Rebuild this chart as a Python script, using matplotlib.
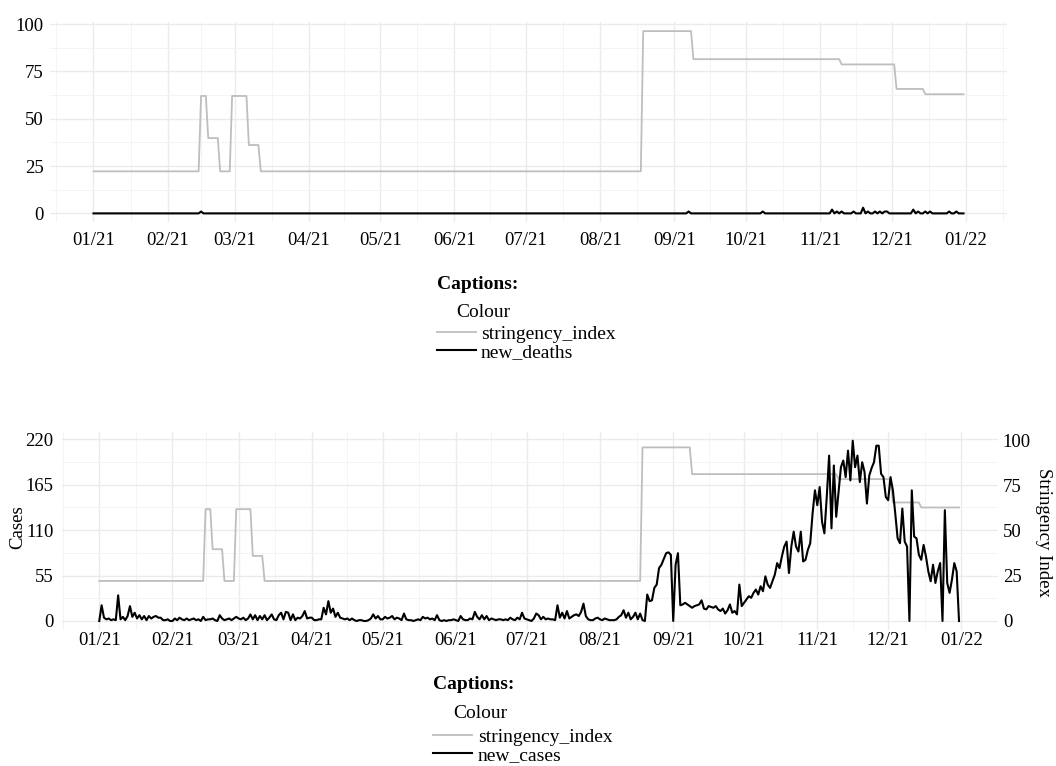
import numpy as np
import pandas as pd
import matplotlib
matplotlib.use('Agg')
import matplotlib.pyplot as plt
import matplotlib.dates as mdates

plt.rcParams['font.family'] = ['Liberation Serif', 'DejaVu Serif']

# ==================== data (one value per day, 2021) ====================
dates = pd.date_range('2021-01-01', '2021-12-31', freq='D')

stringency_index = [
    # jan
    22.22, 22.22, 22.22, 22.22, 22.22, 22.22, 22.22, 22.22, 22.22, 22.22, 22.22,
    22.22, 22.22, 22.22, 22.22, 22.22, 22.22, 22.22, 22.22, 22.22, 22.22, 22.22,
    22.22, 22.22, 22.22, 22.22, 22.22, 22.22, 22.22, 22.22, 22.22,
    # feb
    22.22, 22.22, 22.22, 22.22, 22.22, 22.22, 22.22, 22.22, 22.22, 22.22, 22.22,
    22.22, 22.22, 22.22, 62.04, 62.04, 62.04, 39.81, 39.81, 39.81, 39.81, 39.81,
    22.22, 22.22, 22.22, 22.22, 22.22, 62.04,
    # mar
    62.04, 62.04, 62.04, 62.04, 62.04, 62.04, 36.11, 36.11, 36.11, 36.11, 36.11,
    22.22, 22.22, 22.22, 22.22, 22.22, 22.22, 22.22, 22.22, 22.22, 22.22, 22.22,
    22.22, 22.22, 22.22, 22.22, 22.22, 22.22, 22.22, 22.22, 22.22,
    # apr
    22.22, 22.22, 22.22, 22.22, 22.22, 22.22, 22.22, 22.22, 22.22, 22.22, 22.22,
    22.22, 22.22, 22.22, 22.22, 22.22, 22.22, 22.22, 22.22, 22.22, 22.22, 22.22,
    22.22, 22.22, 22.22, 22.22, 22.22, 22.22, 22.22, 22.22,
    # may
    22.22, 22.22, 22.22, 22.22, 22.22, 22.22, 22.22, 22.22, 22.22, 22.22, 22.22,
    22.22, 22.22, 22.22, 22.22, 22.22, 22.22, 22.22, 22.22, 22.22, 22.22, 22.22,
    22.22, 22.22, 22.22, 22.22, 22.22, 22.22, 22.22, 22.22, 22.22,
    # jun
    22.22, 22.22, 22.22, 22.22, 22.22, 22.22, 22.22, 22.22, 22.22, 22.22, 22.22,
    22.22, 22.22, 22.22, 22.22, 22.22, 22.22, 22.22, 22.22, 22.22, 22.22, 22.22,
    22.22, 22.22, 22.22, 22.22, 22.22, 22.22, 22.22, 22.22,
    # jul
    22.22, 22.22, 22.22, 22.22, 22.22, 22.22, 22.22, 22.22, 22.22, 22.22, 22.22,
    22.22, 22.22, 22.22, 22.22, 22.22, 22.22, 22.22, 22.22, 22.22, 22.22, 22.22,
    22.22, 22.22, 22.22, 22.22, 22.22, 22.22, 22.22, 22.22, 22.22,
    # aug
    22.22, 22.22, 22.22, 22.22, 22.22, 22.22, 22.22, 22.22, 22.22, 22.22, 22.22,
    22.22, 22.22, 22.22, 22.22, 22.22, 22.22, 22.22, 96.3, 96.3, 96.3, 96.3,
    96.3, 96.3, 96.3, 96.3, 96.3, 96.3, 96.3, 96.3, 96.3,
    # sep
    96.3, 96.3, 96.3, 96.3, 96.3, 96.3, 96.3, 96.3, 81.48, 81.48, 81.48,
    81.48, 81.48, 81.48, 81.48, 81.48, 81.48, 81.48, 81.48, 81.48, 81.48, 81.48,
    81.48, 81.48, 81.48, 81.48, 81.48, 81.48, 81.48, 81.48,
    # oct
    81.48, 81.48, 81.48, 81.48, 81.48, 81.48, 81.48, 81.48, 81.48, 81.48, 81.48,
    81.48, 81.48, 81.48, 81.48, 81.48, 81.48, 81.48, 81.48, 81.48, 81.48, 81.48,
    81.48, 81.48, 81.48, 81.48, 81.48, 81.48, 81.48, 81.48, 81.48,
    # nov
    81.48, 81.48, 81.48, 81.48, 81.48, 81.48, 81.48, 81.48, 81.48, 78.7, 78.7,
    78.7, 78.7, 78.7, 78.7, 78.7, 78.7, 78.7, 78.7, 78.7, 78.7, 78.7,
    78.7, 78.7, 78.7, 78.7, 78.7, 78.7, 78.7, 78.7,
    # dec
    78.7, 78.7, 65.74, 65.74, 65.74, 65.74, 65.74, 65.74, 65.74, 65.74, 65.74,
    65.74, 65.74, 65.74, 62.96, 62.96, 62.96, 62.96, 62.96, 62.96, 62.96, 62.96,
    62.96, 62.96, 62.96, 62.96, 62.96, 62.96, 62.96, 62.96, 62.96,
]

new_deaths = [
    # jan
    0, 0, 0, 0, 0, 0, 0, 0, 0, 0, 0, 0, 0, 0, 0, 0, 0, 0, 0, 0, 0, 0, 0, 0, 0, 0, 0, 0, 0, 0, 0,
    # feb
    0, 0, 0, 0, 0, 0, 0, 0, 0, 0, 0, 0, 0, 0, 1, 0, 0, 0, 0, 0, 0, 0, 0, 0, 0, 0, 0, 0,
    # mar
    0, 0, 0, 0, 0, 0, 0, 0, 0, 0, 0, 0, 0, 0, 0, 0, 0, 0, 0, 0, 0, 0, 0, 0, 0, 0, 0, 0, 0, 0, 0,
    # apr
    0, 0, 0, 0, 0, 0, 0, 0, 0, 0, 0, 0, 0, 0, 0, 0, 0, 0, 0, 0, 0, 0, 0, 0, 0, 0, 0, 0, 0, 0,
    # may
    0, 0, 0, 0, 0, 0, 0, 0, 0, 0, 0, 0, 0, 0, 0, 0, 0, 0, 0, 0, 0, 0, 0, 0, 0, 0, 0, 0, 0, 0, 0,
    # jun
    0, 0, 0, 0, 0, 0, 0, 0, 0, 0, 0, 0, 0, 0, 0, 0, 0, 0, 0, 0, 0, 0, 0, 0, 0, 0, 0, 0, 0, 0,
    # jul
    0, 0, 0, 0, 0, 0, 0, 0, 0, 0, 0, 0, 0, 0, 0, 0, 0, 0, 0, 0, 0, 0, 0, 0, 0, 0, 0, 0, 0, 0, 0,
    # aug
    0, 0, 0, 0, 0, 0, 0, 0, 0, 0, 0, 0, 0, 0, 0, 0, 0, 0, 0, 0, 0, 0, 0, 0, 0, 0, 0, 0, 0, 0, 0,
    # sep
    0, 0, 0, 0, 0, 0, 1, 0, 0, 0, 0, 0, 0, 0, 0, 0, 0, 0, 0, 0, 0, 0, 0, 0, 0, 0, 0, 0, 0, 0,
    # oct
    0, 0, 0, 0, 0, 0, 0, 1, 0, 0, 0, 0, 0, 0, 0, 0, 0, 0, 0, 0, 0, 0, 0, 0, 0, 0, 0, 0, 0, 0, 0,
    # nov
    0, 0, 0, 0, 0, 2, 0, 1, 0, 1, 0, 0, 0, 0, 1, 0, 0, 0, 3, 0, 1, 0, 0, 1, 0, 1, 0, 1, 1, 0,
    # dec
    0, 0, 0, 0, 0, 0, 0, 0, 0, 2, 0, 1, 0, 0, 1, 0, 1, 0, 0, 0, 0, 0, 0, 0, 1, 0, 0, 1, 0, 0, 0,
]

new_cases = [
    # jan
    0, 19, 4, 2, 3, 1, 2, 1, 31, 2, 5, 1, 6, 18, 5, 10, 3, 7, 2, 6,
    1, 6, 3, 5, 6, 4, 4, 1, 1, 2, 0,
    # feb
    0, 3, 1, 4, 2, 1, 3, 1, 2, 3, 1, 2, 0, 5, 1, 2, 2, 3, 1, 0,
    7, 3, 1, 2, 3, 1, 3, 5,
    # mar
    3, 2, 4, 1, 3, 8, 2, 7, 1, 6, 2, 7, 1, 4, 8, 2, 1, 7, 10, 2,
    11, 10, 1, 8, 1, 4, 3, 6, 12, 3, 4,
    # apr
    4, 1, 1, 2, 2, 16, 8, 24, 10, 15, 5, 10, 4, 3, 2, 3, 1, 3, 1, 0,
    1, 1, 0, 0, 1, 3, 8, 3, 6, 2,
    # may
    2, 5, 3, 4, 6, 2, 4, 3, 1, 9, 2, 1, 1, 0, 1, 2, 1, 5, 3, 4,
    2, 3, 1, 7, 1, 0, 1, 0, 1, 1, 2,
    # jun
    1, 0, 6, 2, 1, 1, 3, 2, 11, 5, 2, 7, 2, 6, 1, 3, 2, 1, 2, 2,
    1, 2, 1, 4, 2, 1, 4, 2, 10, 3,
    # jul
    2, 1, 0, 3, 9, 7, 2, 5, 2, 3, 2, 2, 1, 19, 4, 10, 3, 12, 3, 5,
    7, 8, 6, 11, 21, 6, 2, 1, 1, 3, 4,
    # aug
    2, 1, 3, 2, 1, 1, 1, 2, 5, 7, 13, 4, 10, 2, 5, 10, 2, 9, 1, 0,
    32, 24, 25, 40, 44, 64, 68, 75, 82, 83, 80,
    # sep
    0, 68, 82, 19, 20, 22, 20, 18, 16, 18, 19, 20, 25, 15, 14, 18, 17, 16, 18, 14,
    12, 15, 9, 13, 20, 10, 12, 8, 44, 18,
    # oct
    22, 26, 30, 28, 34, 38, 32, 42, 36, 54, 44, 40, 48, 56, 70, 64, 78, 90, 96, 58,
    90, 108, 90, 84, 108, 72, 74, 86, 94, 130, 158,
    # nov
    140, 162, 120, 106, 150, 200, 112, 188, 126, 156, 186, 194, 174, 206, 170, 218, 186, 200, 168, 192,
    180, 142, 176, 185, 192, 212, 212, 178, 174, 150,
    # dec
    146, 174, 158, 130, 100, 94, 136, 96, 90, 0, 158, 102, 100, 80, 74, 92, 78, 60, 48, 68,
    46, 60, 70, 0, 134, 46, 34, 50, 70, 60, 0,
]

# ==================== style ====================
W, H = 1056, 766
GRAY = '#BEBEBE'
MAJOR = '#EBEBEB'
MINOR = '#F4F4F4'
FS = 13.5

month_starts = pd.date_range('2020-12-01', '2022-02-01', freq='MS')
major_x = month_starts[1:-1]
minor_x = month_starts[:-1] + (month_starts[1:] - month_starts[:-1]) / 2


def px_axes(left, top, right, bottom):
    return [left / W, 1 - bottom / H, (right - left) / W, (bottom - top) / H]


def style(ax, yticks, yminor, xpad):
    for s in ax.spines.values():
        s.set_visible(False)
    ax.set_xticks(major_x)
    ax.set_xticks(minor_x, minor=True)
    ax.xaxis.set_major_formatter(mdates.DateFormatter('%m/%y'))
    ax.set_yticks(yticks)
    ax.set_yticks(yminor, minor=True)
    ax.grid(which='major', color=MAJOR, lw=1.0)
    ax.grid(which='minor', color=MINOR, lw=0.7)
    ax.set_axisbelow(True)
    ax.tick_params(which='both', length=0, labelsize=FS)
    ax.tick_params(axis='x', pad=xpad)


def captions(ax, handles, labels, x, y_title, y_sub, y_rows):
    fig.text(x / W, 1 - y_title / H, 'Captions:', fontsize=14, fontweight='bold', va='center')
    fig.text((x + 19.7) / W, 1 - y_sub / H, 'Colour', fontsize=14, va='center')
    ax.legend(handles, labels, loc='upper left',
              bbox_to_anchor=(x / W, 1 - y_rows / H), bbox_transform=fig.transFigure,
              frameon=False, fontsize=14, handlelength=2.0, handletextpad=0.28,
              borderpad=0, borderaxespad=0, labelspacing=0.04)


fig = plt.figure(figsize=(W / 100, H / 100), dpi=100)

# ---------- top panel: deaths ----------
ax1 = fig.add_axes(px_axes(50, 22, 1007, 222.5))
l1, = ax1.plot(dates, stringency_index, color=GRAY, lw=1.3)
l2, = ax1.plot(dates, new_deaths, color='black', lw=1.5)
span = (dates[-1] - dates[0]) * 0.05
ax1.set_xlim(dates[0] - span, dates[-1] + span)
top1 = max(max(stringency_index), max(new_deaths))
ax1.set_ylim(-0.05 * top1, top1 * 1.05)
style(ax1, [0, 25, 50, 75, 100], [12.5, 37.5, 62.5, 87.5], 7)
ax1.tick_params(axis='y', pad=4.5)
captions(ax1, [l1, l2], ['stringency_index', 'new_deaths'], 436.7, 284.3, 312.3, 325)

# ---------- bottom panel: cases ----------
coef = max(new_cases) / 100
ax2 = fig.add_axes(px_axes(61.7, 431.7, 998, 630))
l3, = ax2.plot(dates, np.array(stringency_index) * coef, color=GRAY, lw=1.3)
l4, = ax2.plot(dates, new_cases, color='black', lw=1.5)
ax2.set_xlim(dates[0] - pd.Timedelta(days=15.9), dates[-1] + pd.Timedelta(days=16.4))
top2 = max(new_cases)
ax2.set_ylim(-0.05 * top2, top2 * 1.05)
style(ax2, [0, 55, 110, 165, 220], [27.5, 82.5, 137.5, 192.5], 1.5)
ax2.tick_params(axis='y', pad=6)
ax2.set_ylabel('Cases', fontsize=FS, va='center')
ax2.yaxis.set_label_coords(-0.0474, 0.521)

sec = ax2.secondary_yaxis('right', functions=(lambda v: v / coef, lambda v: v * coef))
sec.set_yticks([0, 25, 50, 75, 100])
sec.tick_params(length=0, labelsize=FS, pad=3.5)
for s in sec.spines.values():
    s.set_visible(False)
ax2.text(1.0487, 0.492, 'Stringency Index', transform=ax2.transAxes, fontsize=FS,
         rotation=270, ha='center', va='center')

captions(ax2, [l3, l4], ['stringency_index', 'new_cases'], 433.3, 684.3, 714, 728)

fig.savefig('out.png', dpi=100)
